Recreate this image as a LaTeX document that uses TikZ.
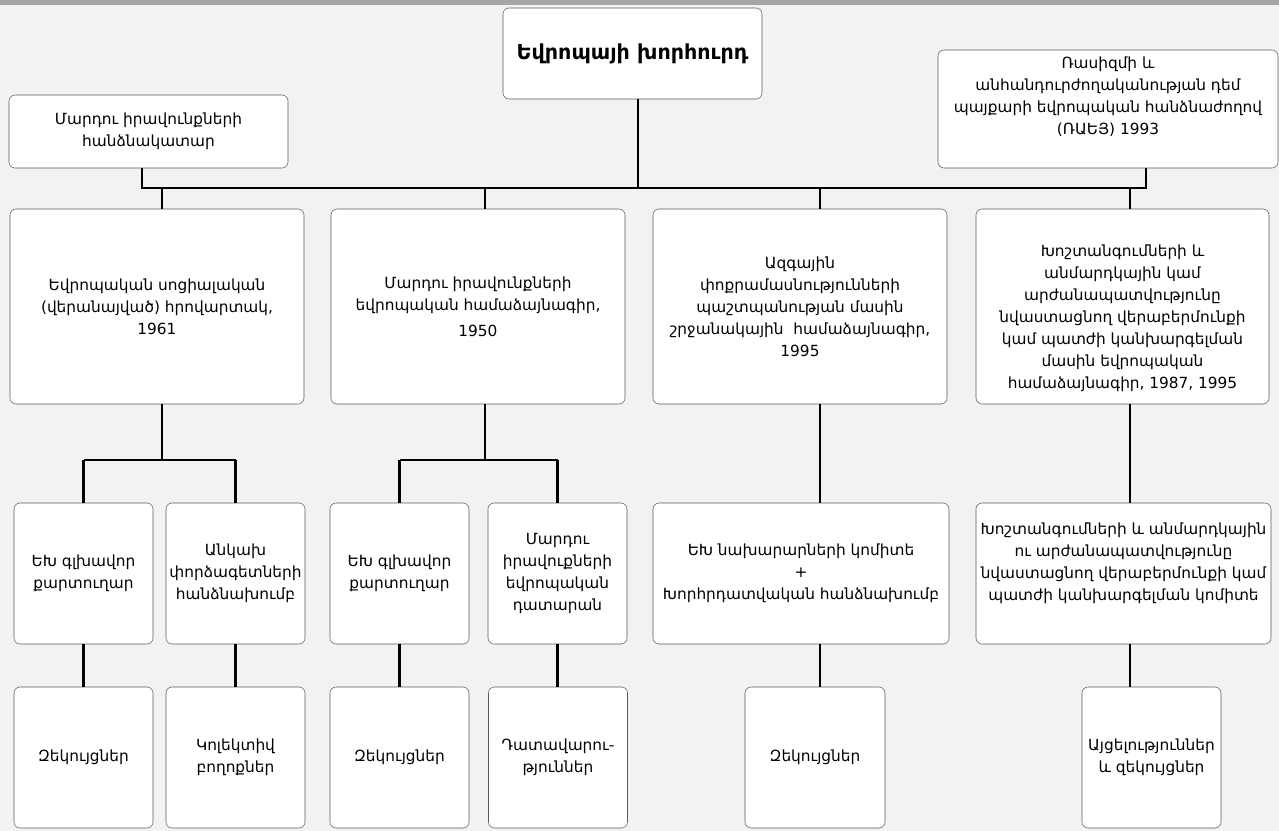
\documentclass[tikz,border=0pt]{standalone}
\usepackage{fontspec}
\setmainfont{DejaVu Sans}
\usepackage{xcolor}
\definecolor{canvas}{HTML}{F2F2F2}
\definecolor{band}{HTML}{A6A6A6}
\begin{document}
\begin{tikzpicture}[x=0.75pt, y=-0.75pt,
    txt/.style={align=center, font=\fontsize{11.5}{16.5}\selectfont},
    box/.style={draw=black!65, fill=white, rounded corners=4.5pt, inner sep=2pt, txt},
    size/.style 2 args={minimum width=#1*0.75pt, minimum height=#2*0.75pt},
    lifted/.style 2 args={label={[txt, yshift=#1]center:{#2}}},
    link/.style={line width=2.2pt}]
    \useasboundingbox (0,0) rectangle (1279,831);
    \fill[canvas] (0,0) rectangle (1279,831);
    \fill[band] (0,0) rectangle (1279,5);

    % top row
    \node[box, size={259}{91}, font=\fontsize{15.5}{18}\selectfont\bfseries] (coe) at (632.5,53.5) {Եվրոպայի խորհուրդ};
    \node[box, size={279}{73}] (comm) at (148.5,131.5) {Մարդու իրավունքների\\հանձնակատար};
    \node[box, size={340}{118}, lifted={9pt}{Ռասիզմի և\\անհանդուրժողականության դեմ\\պայքարի եվրոպական հանձնաժողով\\(ՌԱԵՅ) 1993}] (ecri) at (1108,109) {};

    % conventions
    \node[box, size={294}{195}] (charter) at (157,306.5) {Եվրոպական սոցիալական\\(վերանայված) հրովարտակ,\\1961};
    \node[box, size={294}{195}] (echr) at (478,306.5) {Մարդու իրավունքների\\եվրոպական համաձայնագիր,\\[3pt]1950};
    \node[box, size={294}{195}] (fcnm) at (800,306.5) {Ազգային\\փոքրամասնությունների\\պաշտպանության մասին\\շրջանակային~~համաձայնագիր,\\1995};
    \node[box, size={293}{195}, lifted={-9pt}{Խոշտանգումների և\\անմարդկային կամ\\արժանապատվությունը\\նվաստացնող վերաբերմունքի\\կամ պատժի կանխարգելման\\մասին եվրոպական\\համաձայնագիր, 1987, 1995}] (cpt) at (1122.5,306.5) {};

    % bodies
    \node[box, size={139}{141}] (sg1) at (83.5,573.5) {ԵԽ գլխավոր\\քարտուղար};
    \node[box, size={139}{141}] (ecsr) at (235.5,573.5) {Անկախ\\փորձագետների\\հանձնախումբ};
    \node[box, size={139}{141}] (sg2) at (399.5,573.5) {ԵԽ գլխավոր\\քարտուղար};
    \node[box, size={139}{141}] (court) at (557.5,573.5) {Մարդու\\իրավուքների\\եվրոպական\\դատարան};
    \node[box, size={296}{141}] (cm) at (801,573.5) {ԵԽ նախարարների կոմիտե\\+\\Խորհրդատվական հանձնախումբ};
    \node[box, size={295}{141}, lifted={8pt}{Խոշտանգումների և անմարդկային\\ու արժանապատվությունը\\նվաստացնող վերաբերմունքի կամ\\պատժի կանխարգելման կոմիտե}] (cptc) at (1123.5,573.5) {};

    % outputs
    \node[box, size={139}{141}] (rep1) at (83.5,757.5) {Զեկույցներ};
    \node[box, size={139}{141}] (coll) at (235.5,757.5) {Կոլեկտիվ\\բողոքներ};
    \node[box, size={139}{141}] (rep2) at (399.5,757.5) {Զեկույցներ};
    \node[box, size={139}{141}] (judg) at (558,757.5) {Դատավարու-\\թյուններ};
    \node[box, size={140}{141}] (rep3) at (815,757.5) {Զեկույցներ};
    \node[box, size={139}{141}] (visit) at (1151.5,757.5) {Այցելություններ\\և զեկույցներ};

    % bus and branch points
    \coordinate (b0) at (142,188);
    \coordinate (b1) at (162,188);
    \coordinate (b2) at (485,188);
    \coordinate (b3) at (638,188);
    \coordinate (b4) at (820,188);
    \coordinate (b5) at (1130,188);
    \coordinate (b6) at (1146,188);
    \coordinate (f1) at (162,460);
    \coordinate (f2) at (485,460);

    \draw[link] (b0 |- comm.south) -- (b0) -- (b6) -- (b6 |- ecri.south);
    \draw[link] (coe.south -| b3) -- (b3);
    \foreach \b/\n in {b1/charter, b2/echr, b4/fcnm, b5/cpt}
        \draw[link] (\b) -- (\b |- \n.north);

    \draw[link] (f1 |- charter.south) -- (f1);
    \draw[link] (f2 |- echr.south) -- (f2);
    \draw[link] (sg1.north |- f1) -- (ecsr.north |- f1);
    \draw[link] (sg2.north |- f2) -- (court.north |- f2);
    \foreach \n in {sg1, ecsr}
        \draw[link] (\n.north |- f1) -- (\n.north);
    \foreach \n in {sg2, court}
        \draw[link] (\n.north |- f2) -- (\n.north);
    \draw[link] (b4 |- fcnm.south) -- (b4 |- cm.north);
    \draw[link] (b5 |- cpt.south) -- (b5 |- cptc.north);

    % down to the outputs
    \foreach \a/\b in {sg1/rep1, ecsr/coll, sg2/rep2, court/judg}
        \draw[link] (\a.south) -- (\a.south |- \b.north);
    \draw[link] (b4 |- cm.south) -- (b4 |- rep3.north);
    \draw[link] (b5 |- cptc.south) -- (b5 |- visit.north);
\end{tikzpicture}
\end{document}
